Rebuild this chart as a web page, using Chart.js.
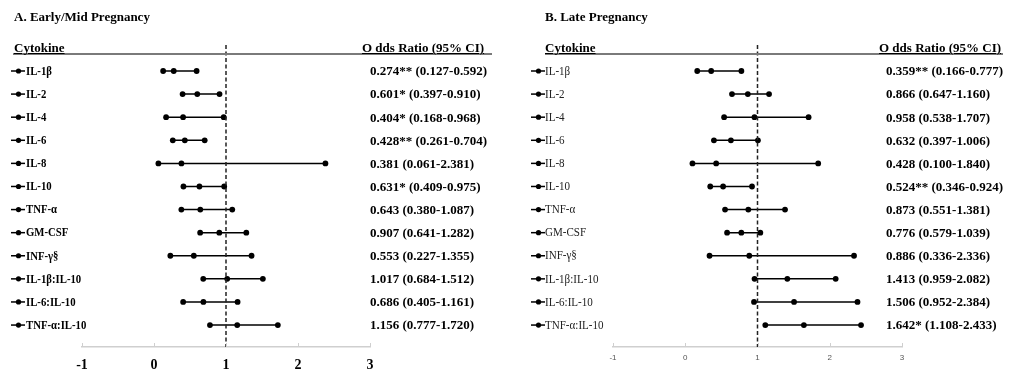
<!DOCTYPE html>
<html>
<head>
<meta charset="utf-8">
<script src="https://cdn.jsdelivr.net/npm/chart.js@4/dist/chart.umd.min.js"></script>
<style>
  html, body { margin: 0; padding: 0; background: #fff; }
  #wrap { position: relative; width: 1012px; height: 378px; overflow: hidden; font-family: "Liberation Serif", "Times New Roman", serif; }
  canvas { position: absolute; top: 0; }
  .t { position: absolute; white-space: nowrap; color: #000; font-weight: bold; font-size: 13px; line-height: 13px; }
  .hl { position: absolute; height: 2px; background: #7a7a7a; }
  .u { text-decoration: underline; }
</style>
</head>
<body>
<div id="wrap">
  <canvas id="cA" width="506" height="378" style="left:0"></canvas>
  <canvas id="cB" width="506" height="378" style="left:506px"></canvas>
  <div class="hl" style="left:13px; top:53px; width:479px;"></div>
  <div class="hl" style="left:545px; top:53px; width:458px;"></div>
  <div class="t" style="left:14px; top:10px;">A. Early/Mid Pregnancy</div>
  <div class="t" style="left:545px; top:10px;">B. Late Pregnancy</div>
  <div class="t u" style="left:14px; top:41px;">Cytokine</div>
  <div class="t u" style="left:362px; top:41px;">O dds Ratio (95% CI)</div>
  <div class="t u" style="left:545px; top:41px;">Cytokine</div>
  <div class="t u" style="left:879px; top:41px;">O dds Ratio (95% CI)</div>
</div>
<script>
// ---------- data ----------
const cytokines = ['IL-1β','IL-2','IL-4','IL-6','IL-8','IL-10','TNF-α','GM-CSF','INF-γ§','IL-1β:IL-10','IL-6:IL-10','TNF-α:IL-10'];

const earlyOR   = [0.274, 0.601, 0.404, 0.428, 0.381, 0.631, 0.643, 0.907, 0.553, 1.017, 0.686, 1.156];
const earlyLow  = [0.127, 0.397, 0.168, 0.261, 0.061, 0.409, 0.380, 0.641, 0.227, 0.684, 0.405, 0.777];
const earlyHigh = [0.592, 0.910, 0.968, 0.704, 2.381, 0.975, 1.087, 1.282, 1.355, 1.512, 1.161, 1.720];
const earlySig  = ['**', '*', '*', '**', '', '*', '', '', '', '', '', ''];

const lateOR   = [0.359, 0.866, 0.958, 0.632, 0.428, 0.524, 0.873, 0.776, 0.886, 1.413, 1.506, 1.642];
const lateLow  = [0.166, 0.647, 0.538, 0.397, 0.100, 0.346, 0.551, 0.579, 0.336, 0.959, 0.952, 1.108];
const lateHigh = [0.777, 1.160, 1.707, 1.006, 1.840, 0.924, 1.381, 1.039, 2.336, 2.082, 2.384, 2.433];
const lateSig  = ['**', '', '', '', '', '**', '', '', '', '', '', '*'];

const xTicks = [-1, 0, 1, 2, 3];
const refValue = 1;

// ---------- helpers ----------
const Y_MIN = -1.1255, Y_MAX = 11.95;

function orText(or, lo, hi, sig) {
  return or.toFixed(3) + sig + ' (' + lo.toFixed(3) + '-' + hi.toFixed(3) + ')';
}

const extrasPlugin = {
  id: 'extras',
  afterDraw(chart, args, opts) {
    const ctx = chart.ctx;
    const ys = chart.scales.y, xs = chart.scales.x;
    ctx.save();
    ctx.fillStyle = '#000';
    ctx.strokeStyle = '#000';
    ctx.lineWidth = 1.5;
    ctx.textBaseline = 'middle';
    ctx.textAlign = 'left';
    ys.ticks.forEach((t, i) => {
      const py = ys.getPixelForValue(t.value);
      // legend-style marker
      ctx.strokeStyle = '#000';
      ctx.lineWidth = 1.5;
      ctx.beginPath();
      ctx.moveTo(opts.markerX, py);
      ctx.lineTo(opts.markerX + 14, py);
      ctx.stroke();
      ctx.fillStyle = '#000';
      ctx.beginPath();
      ctx.arc(opts.markerX + 7.5, py, 2.6, 0, Math.PI * 2);
      ctx.fill();
      // row label (condensed serif)
      ctx.save();
      ctx.translate(opts.labelX, py);
      ctx.scale(opts.labelScale, 1);
      ctx.font = opts.labelFont;
      ctx.fillStyle = opts.labelColor;
      ctx.fillText(cytokines[t.value], 0, 0.5);
      ctx.restore();
      // odds ratio text
      ctx.font = 'bold 13px "Liberation Serif", serif';
      ctx.fillStyle = '#000';
      ctx.fillText(opts.texts[i], opts.textX, py + 1);
    });
    // small upward tick marks on the x axis
    ctx.strokeStyle = '#cfcfcf';
    ctx.lineWidth = 1;
    xs.ticks.forEach(t => {
      const px = Math.round(xs.getPixelForValue(t.value)) + 0.5;
      ctx.beginPath();
      ctx.moveTo(px, xs.top);
      ctx.lineTo(px, xs.top - 4);
      ctx.stroke();
    });
    ctx.restore();
  }
};

function makeChart(id, cfg) {
  const datasets = cfg.or.map((v, i) => ({
    data: [{x: cfg.lo[i], y: i}, {x: v, y: i}, {x: cfg.hi[i], y: i}],
    showLine: true,
    borderColor: '#000',
    backgroundColor: '#000',
    borderWidth: 1.5,
    pointRadius: 2.9,
    pointBorderWidth: 0,
    pointHoverRadius: 2.9
  }));
  datasets.unshift({
    data: [{x: refValue, y: Y_MIN}, {x: refValue, y: Y_MAX}],
    showLine: true,
    borderColor: '#222',
    borderWidth: 1.5,
    borderDash: [4, 2.5],
    pointRadius: 0
  });
  const texts = cfg.or.map((v, i) => orText(v, cfg.lo[i], cfg.hi[i], cfg.sig[i]));
  return new Chart(document.getElementById(id), {
    type: 'scatter',
    data: { datasets },
    plugins: [extrasPlugin],
    options: {
      responsive: false,
      animation: false,
      devicePixelRatio: 1,
      layout: { padding: { left: cfg.padLeft, right: cfg.padRight, top: 45, bottom: 0 } },
      plugins: {
        legend: { display: false },
        tooltip: { enabled: false },
        extras: {
          texts, markerX: cfg.markerX, textX: cfg.textX,
          labelX: cfg.labelX, labelScale: cfg.labelScale,
          labelFont: cfg.labelFont, labelColor: cfg.labelColor
        }
      },
      scales: {
        x: {
          type: 'linear',
          min: xTicks[0],
          max: xTicks[xTicks.length - 1],
          afterBuildTicks: s => { s.ticks = xTicks.map(v => ({value: v})); },
          afterFit: s => { s.height = 31; },
          grid: { display: false, drawTicks: false },
          border: { display: true, color: '#cfcfcf', width: 1.5 },
          ticks: {
            padding: cfg.xTickPad,
            color: cfg.xTickColor,
            font: cfg.xTickFont,
            callback: v => String(v)
          }
        },
        y: {
          type: 'linear',
          reverse: true,
          min: Y_MIN,
          max: Y_MAX,
          afterBuildTicks: s => { s.ticks = cytokines.map((c, i) => ({value: i})); },
          afterFit: s => { s.width = cfg.yWidth; },
          grid: { display: false, drawTicks: false },
          border: { display: false },
          ticks: { display: false }
        }
      }
    }
  });
}

makeChart('cA', {
  or: earlyOR, lo: earlyLow, hi: earlyHigh, sig: earlySig,
  padLeft: 0, padRight: 136, yWidth: 82,
  markerX: 11, textX: 370, labelX: 26, labelScale: 0.86,
  labelFont: 'bold 12.5px "Liberation Serif", serif', labelColor: '#000',
  xTickPad: 10, xTickColor: '#000',
  xTickFont: { family: '"Liberation Serif", serif', size: 14, weight: 'bold' }
});

makeChart('cB', {
  or: lateOR, lo: lateLow, hi: lateHigh, sig: lateSig,
  padLeft: 0, padRight: 110, yWidth: 107,
  markerX: 25, textX: 380, labelX: 39, labelScale: 0.92,
  labelFont: '12px "Liberation Serif", serif', labelColor: '#222',
  xTickPad: 6, xTickColor: '#555',
  xTickFont: { family: '"Liberation Sans", sans-serif', size: 8 }
});
</script>
</body>
</html>
